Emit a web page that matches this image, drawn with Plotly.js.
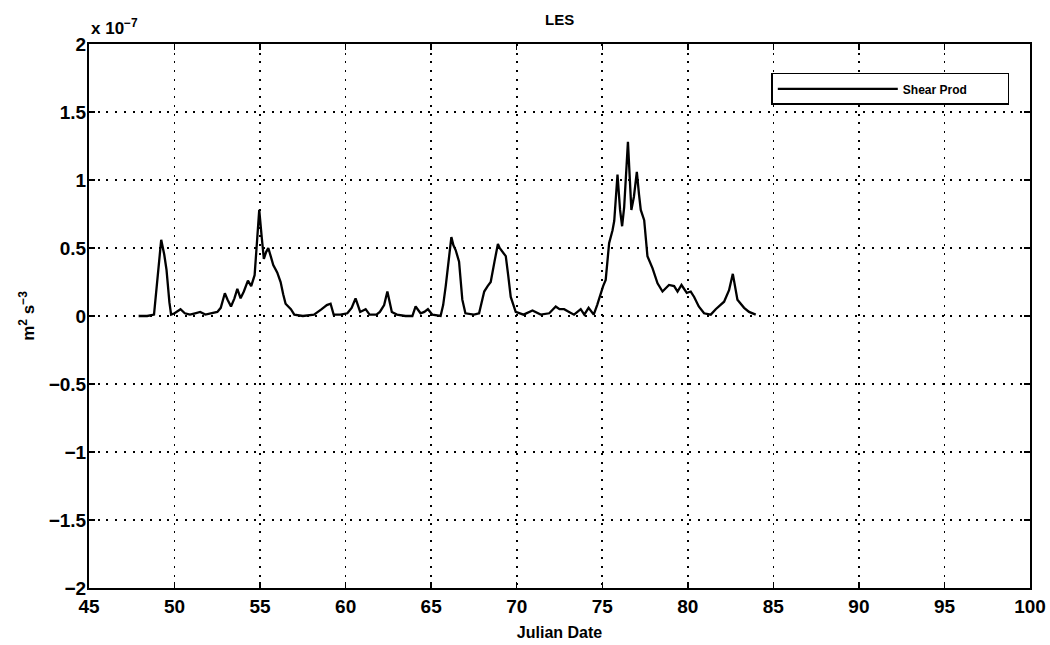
<!DOCTYPE html>
<html>
<head>
<meta charset="utf-8">
<script src="https://cdn.plot.ly/plotly-3.0.1.min.js"></script>
<style>html,body{margin:0;padding:0;background:#fff;}#chart{width:1050px;height:645px;}</style>
</head>
<body>
<div id="chart"></div>
<script>
// Julian date
const julianDate = [47.9,48.4,48.8,49.0,49.22,49.4,49.53,49.7,49.8,50.0,50.35,50.6,50.9,51.2,51.5,51.8,52.2,52.5,52.7,52.94,53.1,53.3,53.5,53.67,53.86,54.05,54.29,54.48,54.68,54.8,54.95,55.08,55.22,55.35,55.48,55.62,55.77,56.0,56.2,56.35,56.49,56.8,57.0,57.5,58.15,58.6,58.9,59.12,59.3,59.7,60.1,60.35,60.58,60.85,61.17,61.4,61.8,62.0,62.25,62.44,62.7,63.0,63.5,63.9,64.09,64.38,64.6,64.81,65.07,65.55,65.7,65.85,66.0,66.18,66.3,66.43,66.63,66.82,67.0,67.5,67.8,67.95,68.1,68.3,68.48,68.7,68.9,69.0,69.16,69.36,69.5,69.65,69.94,70.4,70.92,71.4,71.9,72.28,72.5,72.77,73.06,73.35,73.74,73.95,74.2,74.5,74.7,74.91,75.05,75.2,75.3,75.4,75.6,75.7,75.89,76.04,76.16,76.28,76.5,76.7,76.85,77.02,77.15,77.25,77.45,77.64,77.94,78.23,78.52,78.9,79.2,79.4,79.63,79.94,80.17,80.37,80.64,80.95,81.34,81.63,82.12,82.41,82.63,82.9,83.29,83.58,83.97];
// Shear production, in units of 1e-7 m^2 s^-3
const shearProd = [0,0,0.01,0.3,0.56,0.45,0.34,0.1,0.01,0.02,0.05,0.02,0.01,0.02,0.03,0.01,0.02,0.03,0.06,0.167,0.12,0.07,0.13,0.2,0.13,0.18,0.26,0.22,0.30,0.5,0.78,0.6,0.42,0.47,0.50,0.44,0.375,0.32,0.25,0.16,0.09,0.05,0.01,0,0.01,0.05,0.08,0.09,0.01,0.01,0.02,0.06,0.13,0.03,0.05,0.01,0.01,0.03,0.08,0.18,0.03,0.01,0,0,0.07,0.02,0.03,0.05,0.01,0,0.08,0.22,0.4,0.58,0.52,0.485,0.40,0.12,0.02,0.01,0.02,0.09,0.18,0.22,0.25,0.40,0.53,0.5,0.47,0.44,0.3,0.14,0.03,0.01,0.04,0.01,0.02,0.07,0.05,0.05,0.03,0.01,0.05,0.01,0.06,0.01,0.08,0.17,0.22,0.265,0.4,0.535,0.63,0.70,1.04,0.78,0.66,0.80,1.28,0.78,0.877,1.06,0.89,0.78,0.705,0.44,0.35,0.24,0.18,0.228,0.22,0.18,0.228,0.17,0.18,0.14,0.07,0.02,0.01,0.05,0.105,0.19,0.31,0.12,0.06,0.03,0.01];

const xTicks = [45,50,55,60,65,70,75,80,85,90,95,100];
const yTicks = [-2,-1.5,-1,-0.5,0,0.5,1,1.5,2];
const yTickText = ['\u22122','\u22121.5','\u22121','\u22120.5','0','0.5','1','1.5','2'];

const font = {family:'Liberation Sans, Arial, sans-serif', color:'#000'};

const trace = {
  x: julianDate, y: shearProd, type:'scatter', mode:'lines', name:'Shear Prod',
  line:{color:'#000', width:2.3}
};

const axisCommon = {
  showline:true, linecolor:'#000', linewidth:2, mirror:'ticks',
  ticks:'inside', ticklen:6, tickcolor:'#000', tickwidth:1.5,
  showgrid:true, gridcolor:'#000', gridwidth:1.6, griddash:'2px,6.7px',
  zeroline:false,
  tickfont:{family:font.family, size:19, color:'#000', weight:'bold'}
};

const layout = {
  width:1050, height:645,
  margin:{l:89, r:20, t:44, b:57},
  paper_bgcolor:'#fff', plot_bgcolor:'#fff',
  title:{text:'LES', font:{family:font.family, size:15, color:'#000', weight:'bold'}, x:0.533, xanchor:'center', y:0.978, yanchor:'top'},
  xaxis: Object.assign({}, axisCommon, {
    range:[45,100], tickvals:xTicks, ticktext:xTicks.map(String),
    title:{text:'Julian Date', font:{family:font.family, size:16, color:'#000', weight:'bold'}, standoff:11}
  }),
  yaxis: Object.assign({}, axisCommon, {
    range:[-2,2], tickvals:yTicks, ticktext:yTickText, ticklabelstandoff:-3,
    title:{text:'m<sup>2</sup> s<sup>\u22123</sup>', font:{family:font.family, size:17, color:'#000', weight:'bold'}, standoff:10}
  }),
  showlegend:true,
  legend:{orientation:'h', x:0.978, xanchor:'right', y:0.947, yanchor:'top', bgcolor:'#fff', bordercolor:'#000', borderwidth:1.5,
    font:{family:font.family, size:12, color:'#000', weight:'bold'}, itemwidth:120, entrywidth:100, entrywidthmode:'pixels', tracegroupgap:0},
  annotations:[
    {xref:'paper', yref:'paper', x:0, y:1, xanchor:'left', yanchor:'bottom', yshift:4, showarrow:false,
     text:'x 10<sup>\u22127</sup>', font:{family:font.family, size:17, color:'#000', weight:'bold'}}
  ]
};

Plotly.newPlot('chart', [trace], layout, {displayModeBar:false, staticPlot:true});
</script>
</body>
</html>
